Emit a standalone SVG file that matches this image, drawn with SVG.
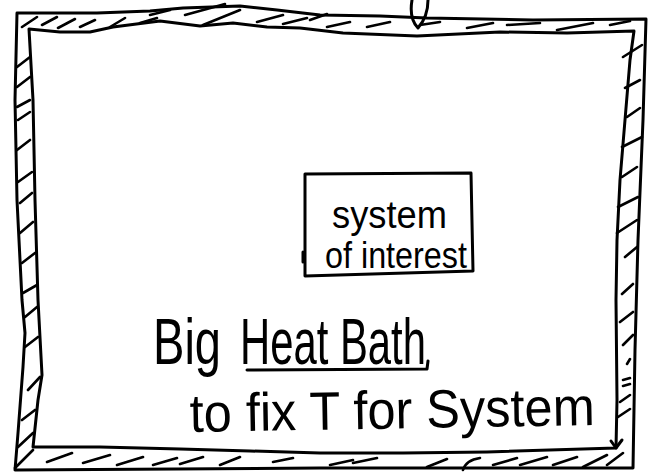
<svg xmlns="http://www.w3.org/2000/svg" width="649" height="472" viewBox="0 0 649 472">
<style>
.ln{fill:none;stroke:#000;stroke-width:3;stroke-linecap:round;stroke-linejoin:round}
.h{fill:none;stroke:#000;stroke-width:2.6;stroke-linecap:round}
.t{font-family:"Liberation Sans",Arial,sans-serif;fill:#000}
</style>
<rect width="649" height="472" fill="#fff"/>
<g id="bath-wall">
<path class="ln" d="M17,13 L97,13 L150,11 L183,8 L240,6 L277,10 L320,15 L380,16 L427,18 L533,20 L646,19 L643,120 L638,240 L635,350 L633,468 L320,468 L15,470 L18,433 L23,367 L25,333 L22,300 L17,200 L15,100 Z"/>
<path class="ln" d="M29,29 L60,32 L90,32 L113,27 L160,21 L200,26 L233,23 L267,27 L300,28 L343,33 L417,36 L500,32 L567,33 L634,31 L630,60 L625,120 L620,180 L617,240 L616,300 L617,400 L616,448 L487,452 L403,453 L320,453 L250,451 L180,449 L100,447 L33,447 L38,400 L42,375 L38,300 L35,200 L33,100 Z"/>
<path class="ln" d="M611,441 L616,448 L622,440"/>
<path class="ln" d="M412,0 C410,12 412,22 418,28 C425,20 428,10 428,0"/>
</g>
<g id="hatching">
<path class="h" d="M22,27 L37,17 M42,25 L57,17 M58,28 L75,19 M80,27 L95,20 M110,27 L125,18 M140,23 L157,18 M150,15 L170,10 M185,15 L225,4 M203,25 L240,10 M257,22 L283,15 M283,24 L307,18 M310,20 L327,14 M327,27 L350,22 M367,27 L390,22 M420,25 L440,22 M467,28 L493,23 M507,25 L540,23 M557,30 L593,23 M610,25 L630,21"/>
<path class="h" d="M623,57 L642,45 M625,88 L640,80 M627,117 L640,108 M622,147 L642,137 M622,177 L637,167 M618,207 L638,197 M617,233 L637,220 M625,257 L637,247 M622,294 L633,284 M620,322 L633,312 M623,345 L633,335 M627,364 L630,359 M623,380 L630,378 M623,386 L630,384 M620,402 L630,395 M618,417 L630,409"/>
<path class="h" d="M17,67 L30,57 M17,87 L30,77 M17,107 L30,100 M18,120 L30,112 M17,150 L30,140 M18,182 L32,172 M20,203 L32,193 M20,233 L33,222 M22,263 L35,253 M23,293 L37,285 M25,317 L37,307 M25,347 L38,337 M28,390 L40,377 M22,420 L35,410 M18,447 L33,433"/>
<path class="h" d="M15,468 L33,450 M47,462 L72,453 M83,463 L110,455 M117,465 L143,457 M153,465 L177,458 M180,464 L203,457 M220,465 L240,457 M273,462 L293,458 M330,465 L353,460 M353,463 L377,458 M427,467 L447,459 M463,470 Q466,460 480,458 M493,465 L517,458 M520,465 L547,457 M553,465 L577,457 M583,467 L607,455 M607,465 L623,453"/>
</g>
<g id="system-of-interest">
<path class="ln" d="M305,174 L471,173 L473,271 L305,276 Z"/>
<path class="ln" d="M303,252 L303,262"/>
<text class="t" x="332" y="228" font-size="38" textLength="115" lengthAdjust="spacingAndGlyphs">system</text>
<text class="t" x="325" y="268" font-size="36" textLength="142" lengthAdjust="spacingAndGlyphs">of interest</text>
</g>
<g id="heat-bath-label">
<text class="t" x="153" y="364" font-size="64" textLength="68" lengthAdjust="spacingAndGlyphs">Big</text>
<text class="t" x="240" y="364" font-size="64" textLength="186" lengthAdjust="spacingAndGlyphs">Heat Bath</text>
<path class="ln" d="M247,370 L427,369 L428,361"/>
<text class="t" x="190" y="432" font-size="54" textLength="405" lengthAdjust="spacingAndGlyphs" transform="rotate(-1 190 432)">to fix T for System</text>
</g>
</svg>
